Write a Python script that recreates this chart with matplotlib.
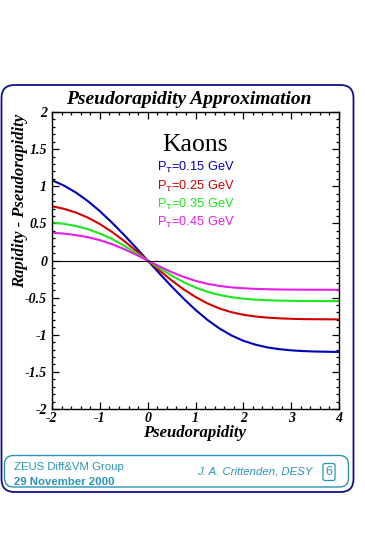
import matplotlib
matplotlib.use("Agg")
import matplotlib.pyplot as plt
from matplotlib.patches import FancyBboxPatch
from matplotlib.ticker import MultipleLocator
from matplotlib.font_manager import FontProperties

plt.rcParams['axes.unicode_minus'] = False
plt.rcParams['mathtext.fontset'] = 'dejavusans'

# ---------------- data ----------------
eta = [-2.0, -1.75, -1.5, -1.25, -1.0, -0.75, -0.5, -0.25, 0.0,
       0.25, 0.5, 0.75, 1.0, 1.25, 1.5, 1.75, 2.0,
       2.25, 2.5, 2.75, 3.0, 3.25, 3.5, 3.75, 4.0]

pt015 = [1.081, 1.009, 0.915, 0.800, 0.665, 0.513, 0.349, 0.177, 0.0,
         -0.177, -0.349, -0.513, -0.665, -0.800, -0.915, -1.009, -1.081,
         -1.133, -1.170, -1.194, -1.210, -1.220, -1.226, -1.229, -1.232]
pt025 = [0.731, 0.696, 0.646, 0.578, 0.491, 0.387, 0.267, 0.136, 0.0,
         -0.136, -0.267, -0.387, -0.491, -0.578, -0.646, -0.696, -0.731,
         -0.754, -0.769, -0.779, -0.785, -0.789, -0.791, -0.792, -0.793]
pt035 = [0.514, 0.494, 0.464, 0.422, 0.364, 0.291, 0.203, 0.104, 0.0,
         -0.104, -0.203, -0.291, -0.364, -0.422, -0.464, -0.494, -0.514,
         -0.527, -0.535, -0.540, -0.543, -0.545, -0.546, -0.547, -0.547]
pt045 = [0.374, 0.362, 0.342, 0.314, 0.274, 0.221, 0.156, 0.081, 0.0,
         -0.081, -0.156, -0.221, -0.274, -0.314, -0.342, -0.362, -0.374,
         -0.382, -0.387, -0.390, -0.392, -0.393, -0.394, -0.394, -0.395]

series = [pt015, pt025, pt035, pt045]
series_labels = [r'P$_{\tau}$=0.15 GeV', r'P$_{\tau}$=0.25 GeV',
                 r'P$_{\tau}$=0.35 GeV', r'P$_{\tau}$=0.45 GeV']
colors = ['#0000b4', '#d20000', '#1ee61e', '#e61ee6']

xticks = [-2, -1, 0, 1, 2, 3, 4]
xticklabels = ['-2', '-1', '0', '1', '2', '3', '4']
yticks = [-2, -1.5, -1, -0.5, 0, 0.5, 1, 1.5, 2]
yticklabels = ['-2', '-1.5', '-1', '-0.5', '0', '0.5', '1', '1.5', '2']

title = 'Pseudorapidity Approximation'
xlabel = 'Pseudorapidity'
ylabel = 'Rapidity - Pseudorapidity'
particle = 'Kaons'

# ---------------- figure ----------------
W, H = 365, 535
fig = plt.figure(figsize=(W / 100, H / 100), dpi=100)
fig.patch.set_facecolor('white')

def fx(px):
    return px / W

def fy(py):
    return (H - py) / H

outer = FancyBboxPatch((0.015, (H - 492) / 100), 3.52, 4.07,
                       boxstyle='round,pad=0,rounding_size=0.13',
                       transform=fig.dpi_scale_trans, fill=False,
                       edgecolor='#10108c', linewidth=1.3)
fig.patches.append(outer)
teal = '#2a94b4'
footer = FancyBboxPatch((0.045, (H - 487) / 100), 3.44, 0.315,
                        boxstyle='round,pad=0,rounding_size=0.09',
                        transform=fig.dpi_scale_trans, fill=False,
                        edgecolor=teal, linewidth=1.0)
fig.patches.append(footer)

left, right, top, bottom = 52, 339, 112, 409
ax = fig.add_axes([fx(left), fy(bottom), fx(right) - fx(left), fy(top) - fy(bottom)])

for vals, c in zip(series, colors):
    ax.plot(eta, vals, color=c, linewidth=1.5, solid_capstyle='butt')
ax.axhline(0, color='black', linewidth=0.8)

ax.set_xlim(-2, 4)
ax.set_ylim(-2, 2)
ax.set_xticks(xticks)
ax.set_xticklabels(xticklabels)
ax.set_yticks(yticks)
ax.set_yticklabels(yticklabels)
ax.xaxis.set_minor_locator(MultipleLocator(0.2))
ax.yaxis.set_minor_locator(MultipleLocator(0.1))
ax.tick_params(which='both', direction='in', top=True, right=True, width=0.9, color='black')
ax.tick_params(which='major', length=5)
ax.tick_params(which='minor', length=2.5)
ax.tick_params(axis='x', pad=2)
ax.tick_params(axis='y', pad=3.5)
for s in ax.spines.values():
    s.set_linewidth(1.0)

tickfont = FontProperties(family='Liberation Serif', weight='bold', style='italic', size=10)
for lab in ax.get_xticklabels() + ax.get_yticklabels():
    lab.set_fontproperties(tickfont)

labfont = dict(family='Liberation Serif', weight='bold', style='italic')
fig.text(fx(189), fy(100), title, ha='center', va='center', fontsize=14, **labfont)
fig.text(fx(194), fy(433), xlabel, ha='center', va='center', fontsize=12, **labfont)
fig.text(fx(20), fy(201), ylabel, ha='center', va='center', rotation=90, fontsize=12, **labfont)

fig.text(fx(195), fy(145), particle, ha='center', va='center', fontsize=18.5,
         family='Liberation Serif')
leg_y = [167, 186, 204, 222]
for lbl, c, yy in zip(series_labels, colors, leg_y):
    fig.text(fx(196), fy(yy), lbl, ha='center', va='center', fontsize=9.2,
             color=c, family='Liberation Sans')

fig.text(fx(14), fy(467), 'ZEUS Diff&VM Group', ha='left', va='center', fontsize=8.2,
         color=teal, family='Liberation Sans')
fig.text(fx(14), fy(482), '29 November 2000', ha='left', va='center', fontsize=8.2,
         color=teal, family='Liberation Sans', weight='bold')
fig.text(fx(313), fy(472), 'J. A. Crittenden, DESY', ha='right', va='center', fontsize=8.2,
         color=teal, family='Liberation Sans', style='italic')
fig.text(fx(329), fy(472), '6', ha='center', va='center', fontsize=9,
         color=teal, family='Liberation Sans',
         bbox=dict(boxstyle='round,pad=0.2,rounding_size=0.15', fc='white', ec=teal, lw=0.9))

fig.savefig('out.png', dpi=100)
